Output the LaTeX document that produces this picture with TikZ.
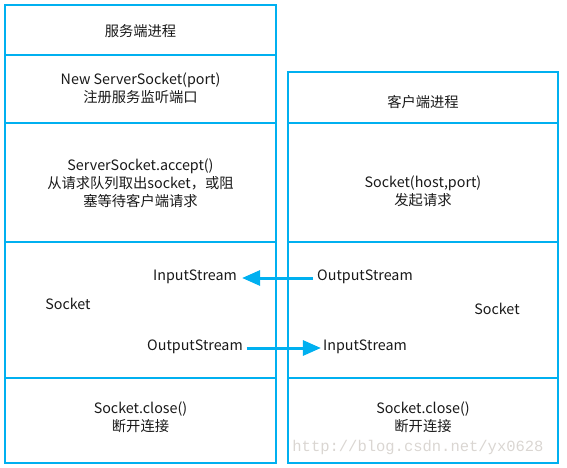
\documentclass[tikz,border=0pt]{standalone}
\usepackage{fontspec}
\setmainfont{Noto Sans CJK SC}
\newfontfamily\wmfont{Liberation Mono}
\usetikzlibrary{arrows.meta}
\definecolor{linecyan}{RGB}{0,176,240}
\definecolor{wmgray}{RGB}{218,214,210}
\begin{document}
\begin{tikzpicture}[x=1pt,y=-1pt,
  cell/.style={draw=linecyan, line width=1.1pt, inner sep=0pt, fill=none},
  txt/.style={font=\fontsize{14.3}{18}\selectfont, align=center, inner sep=0pt, text=black!90},
  flow/.style={draw=linecyan, line width=3pt, -{Triangle[length=18pt,width=15pt]}}
]
\useasboundingbox (0,0) rectangle (567,468);
% left column cells
\node[cell, minimum width=271pt, minimum height=50pt]  (L1) at (140.5,30) {};
\node[cell, minimum width=271pt, minimum height=68pt]  (L2) at (140.5,89) {};
\node[cell, minimum width=271pt, minimum height=119pt] (L3) at (140.5,182.5) {};
\node[cell, minimum width=271pt, minimum height=136pt] (L4) at (140.5,310) {};
\node[cell, minimum width=271pt, minimum height=85pt]  (L5) at (140.5,420.5) {};
% right column cells
\node[cell, minimum width=270pt, minimum height=51pt]  (R1) at (423,97.5) {};
\node[cell, minimum width=270pt, minimum height=119pt] (R3) at (423,182.5) {};
\node[cell, minimum width=270pt, minimum height=136pt] (R4) at (423,310) {};
\node[cell, minimum width=270pt, minimum height=85pt]  (R5) at (423,420.5) {};
% texts left
\node[txt] (t1) at (140.5,31) {服务端进程};
\node[txt] (t2) at (140.5,88) {New ServerSocket(port)\\注册服务监听端口};
\node[txt] (t3) at (140.5,183) {ServerSocket.accept()\\从请求队列取出socket，或阻\\塞等待客户端请求};
\node[txt] (t4) at (140.5,417) {Socket.close()\\断开连接};
\node[txt] (sockL) at (68,304) {Socket};
\node[txt] (isL) at (195,277) {InputStream};
\node[txt] (osL) at (195,347) {OutputStream};
% texts right
\node[txt] (u1) at (423,102) {客户端进程};
\node[txt] (u3) at (423,191) {Socket(host,port)\\发起请求};
\node[txt] (u5) at (423,417) {Socket.close()\\断开连接};
\node[txt] (sockR) at (497,309) {Socket};
\node[txt] (osR) at (365,277) {OutputStream};
\node[txt] (isR) at (365,347) {InputStream};
% arrows
\draw[flow] ([xshift=-4pt,yshift=-1pt]osR.west) -- ([xshift=5pt,yshift=-1pt]isL.east);
\draw[flow] ([xshift=4pt,yshift=-1pt]osL.east) -- ([xshift=-2pt,yshift=-1pt]isR.west);
% watermark
\node[inner sep=0pt, text=wmgray, font=\wmfont\fontsize{15.5}{16}\selectfont] (wm) at (418,447) {http://blog.csdn.net/yx0628};
\end{tikzpicture}
\end{document}
